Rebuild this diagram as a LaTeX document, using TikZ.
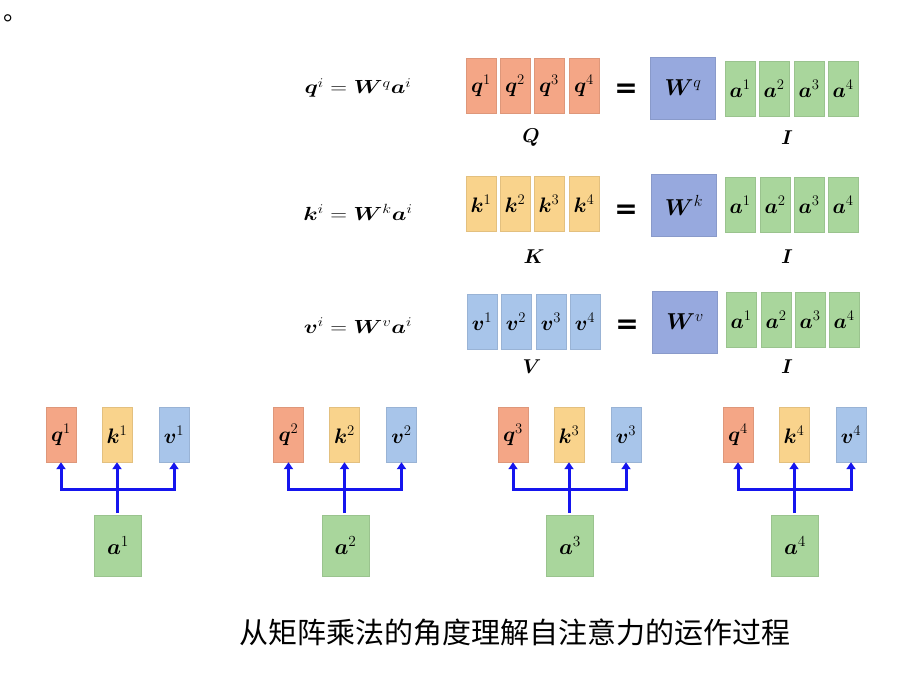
\RequirePackage{fix-cm}
\documentclass[tikz,border=0pt]{standalone}
\usepackage{amsmath}
\usepackage{bm}
\usepackage{graphicx}
\usepackage{fontspec}
\newfontfamily\cjk{Noto Sans CJK SC}
\newfontfamily\heavy{DejaVu Sans}
\newcommand{\wideeq}[1]{\scalebox{1.22}[1]{$#1$}}
\usetikzlibrary{arrows.meta}
\definecolor{qcol}{HTML}{F4A686}
\definecolor{kcol}{HTML}{F9D38C}
\definecolor{vcol}{HTML}{A8C5EA}
\definecolor{wcol}{HTML}{97A9DE}
\definecolor{acol}{HTML}{A9D69C}
\definecolor{arr}{HTML}{1515EE}
\tikzset{
  cell/.style={minimum width=30pt,minimum height=55pt,inner sep=0pt,font=\fontsize{21}{23}\selectfont},
  qbox/.style={cell,fill=qcol,draw=qcol!85!black!60!qcol},
  kbox/.style={cell,fill=kcol,draw=kcol!85!black!60!kcol},
  vbox/.style={cell,fill=vcol,draw=vcol!85!black!60!vcol},
  abox/.style={cell,fill=acol,draw=acol!85!black!60!acol},
  wbox/.style={minimum width=65pt,minimum height=62pt,inner sep=0pt,fill=wcol,draw=wcol!85!black!60!wcol,font=\fontsize{23}{25}\selectfont},
  bigabox/.style={minimum width=47pt,minimum height=61pt,inner sep=0pt,fill=acol,draw=acol!85!black!60!acol,font=\fontsize{22}{24}\selectfont},
  eqlab/.style={font=\fontsize{19}{21}\selectfont},
  matlab/.style={font=\fontsize{20}{22}\selectfont},
  eqsign/.style={font=\heavy\bfseries\fontsize{28}{28}\selectfont,inner sep=0pt},
  fan/.style={draw=arr,line width=3pt,-{Triangle[length=7pt,width=9pt]}}
}
\begin{document}
\begin{tikzpicture}[x=1pt,y=-1pt]
\useasboundingbox (0,0) rectangle (916,673);
\fill[white] (0,0) rectangle (916,673);
\node[font=\cjk\fontsize{24}{24}\selectfont,inner sep=0pt,anchor=base west] (dot) at (3,20) {。};

% ---- Q row
\node[eqlab] (eqq) at (358,88) {\wideeq{\bm{q}^i=\bm{W}^q\bm{a}^i}};
\foreach \i/\x in {1/481,2/515,3/549,4/584}{
  \node[qbox] (q\i) at (\x,85.5) {$\bm{q}^{\i}$};
}
\node[eqsign] (e1) at (626,91) {=};
\node[wbox] (wq) at (683,88) {$\bm{W}^q$};
\foreach \i/\x in {1/740,2/774,3/809,4/843}{
  \node[abox] (ia\i) at (\x,88.5) {$\bm{a}^{\i}$};
}
\node[matlab] (Q) at (531,138) {$\bm{Q}$};
\node[matlab] (I1) at (787,138) {$\bm{I}$};

% ---- K row
\node[eqlab] (eqk) at (358,212) {\wideeq{\bm{k}^i=\bm{W}^k\bm{a}^i}};
\foreach \i/\x in {1/481,2/515,3/549,4/584}{
  \node[kbox] (k\i) at (\x,204) {$\bm{k}^{\i}$};
}
\node[eqsign] (e2) at (626,212) {=};
\node[wbox] (wk) at (684,205.5) {$\bm{W}^k$};
\foreach \i/\x in {1/740,2/775,3/809,4/843}{
  \node[abox] (ib\i) at (\x,204.5) {$\bm{a}^{\i}$};
}
\node[matlab] (K) at (534,257) {$\bm{K}$};
\node[matlab] (I2) at (787,257) {$\bm{I}$};

% ---- V row
\node[eqlab] (eqv) at (358,326) {\wideeq{\bm{v}^i=\bm{W}^v\bm{a}^i}};
\foreach \i/\x in {1/482,2/516,3/551,4/585}{
  \node[vbox] (v\i) at (\x,321.5) {$\bm{v}^{\i}$};
}
\node[eqsign] (e3) at (627,327) {=};
\node[wbox] (wv) at (685,322) {$\bm{W}^v$};
\foreach \i/\x in {1/741,2/776,3/810,4/844}{
  \node[abox] (ic\i) at (\x,319.5) {$\bm{a}^{\i}$};
}
\node[matlab] (V) at (532,367) {$\bm{V}$};
\node[matlab] (I3) at (787,367) {$\bm{I}$};

% ---- bottom groups
\foreach \g/\k in {1/117,2/344.5,3/569,4/794}{
  \node[qbox] (bq\g) at (\k-56,434.5) {$\bm{q}^{\g}$};
  \node[kbox] (bk\g) at (\k,434.5) {$\bm{k}^{\g}$};
  \node[vbox] (bv\g) at (\k+57,434.5) {$\bm{v}^{\g}$};
  \node[bigabox] (ba\g) at (\k+1,546) {$\bm{a}^{\g}$};
  \coordinate (h\g) at (\k,489);
  \coordinate (s\g) at (\k,513);
  \draw[fan] (s\g) -- (bk\g.south);
  \draw[fan] (h\g) -| (bq\g.south);
  \draw[fan] (h\g) -| (bv\g.south);
}

\node[font=\cjk\fontsize{29}{31}\selectfont,inner sep=0pt] (cap) at (515,632) {从矩阵乘法的角度理解自注意力的运作过程};
\end{tikzpicture}
\end{document}
